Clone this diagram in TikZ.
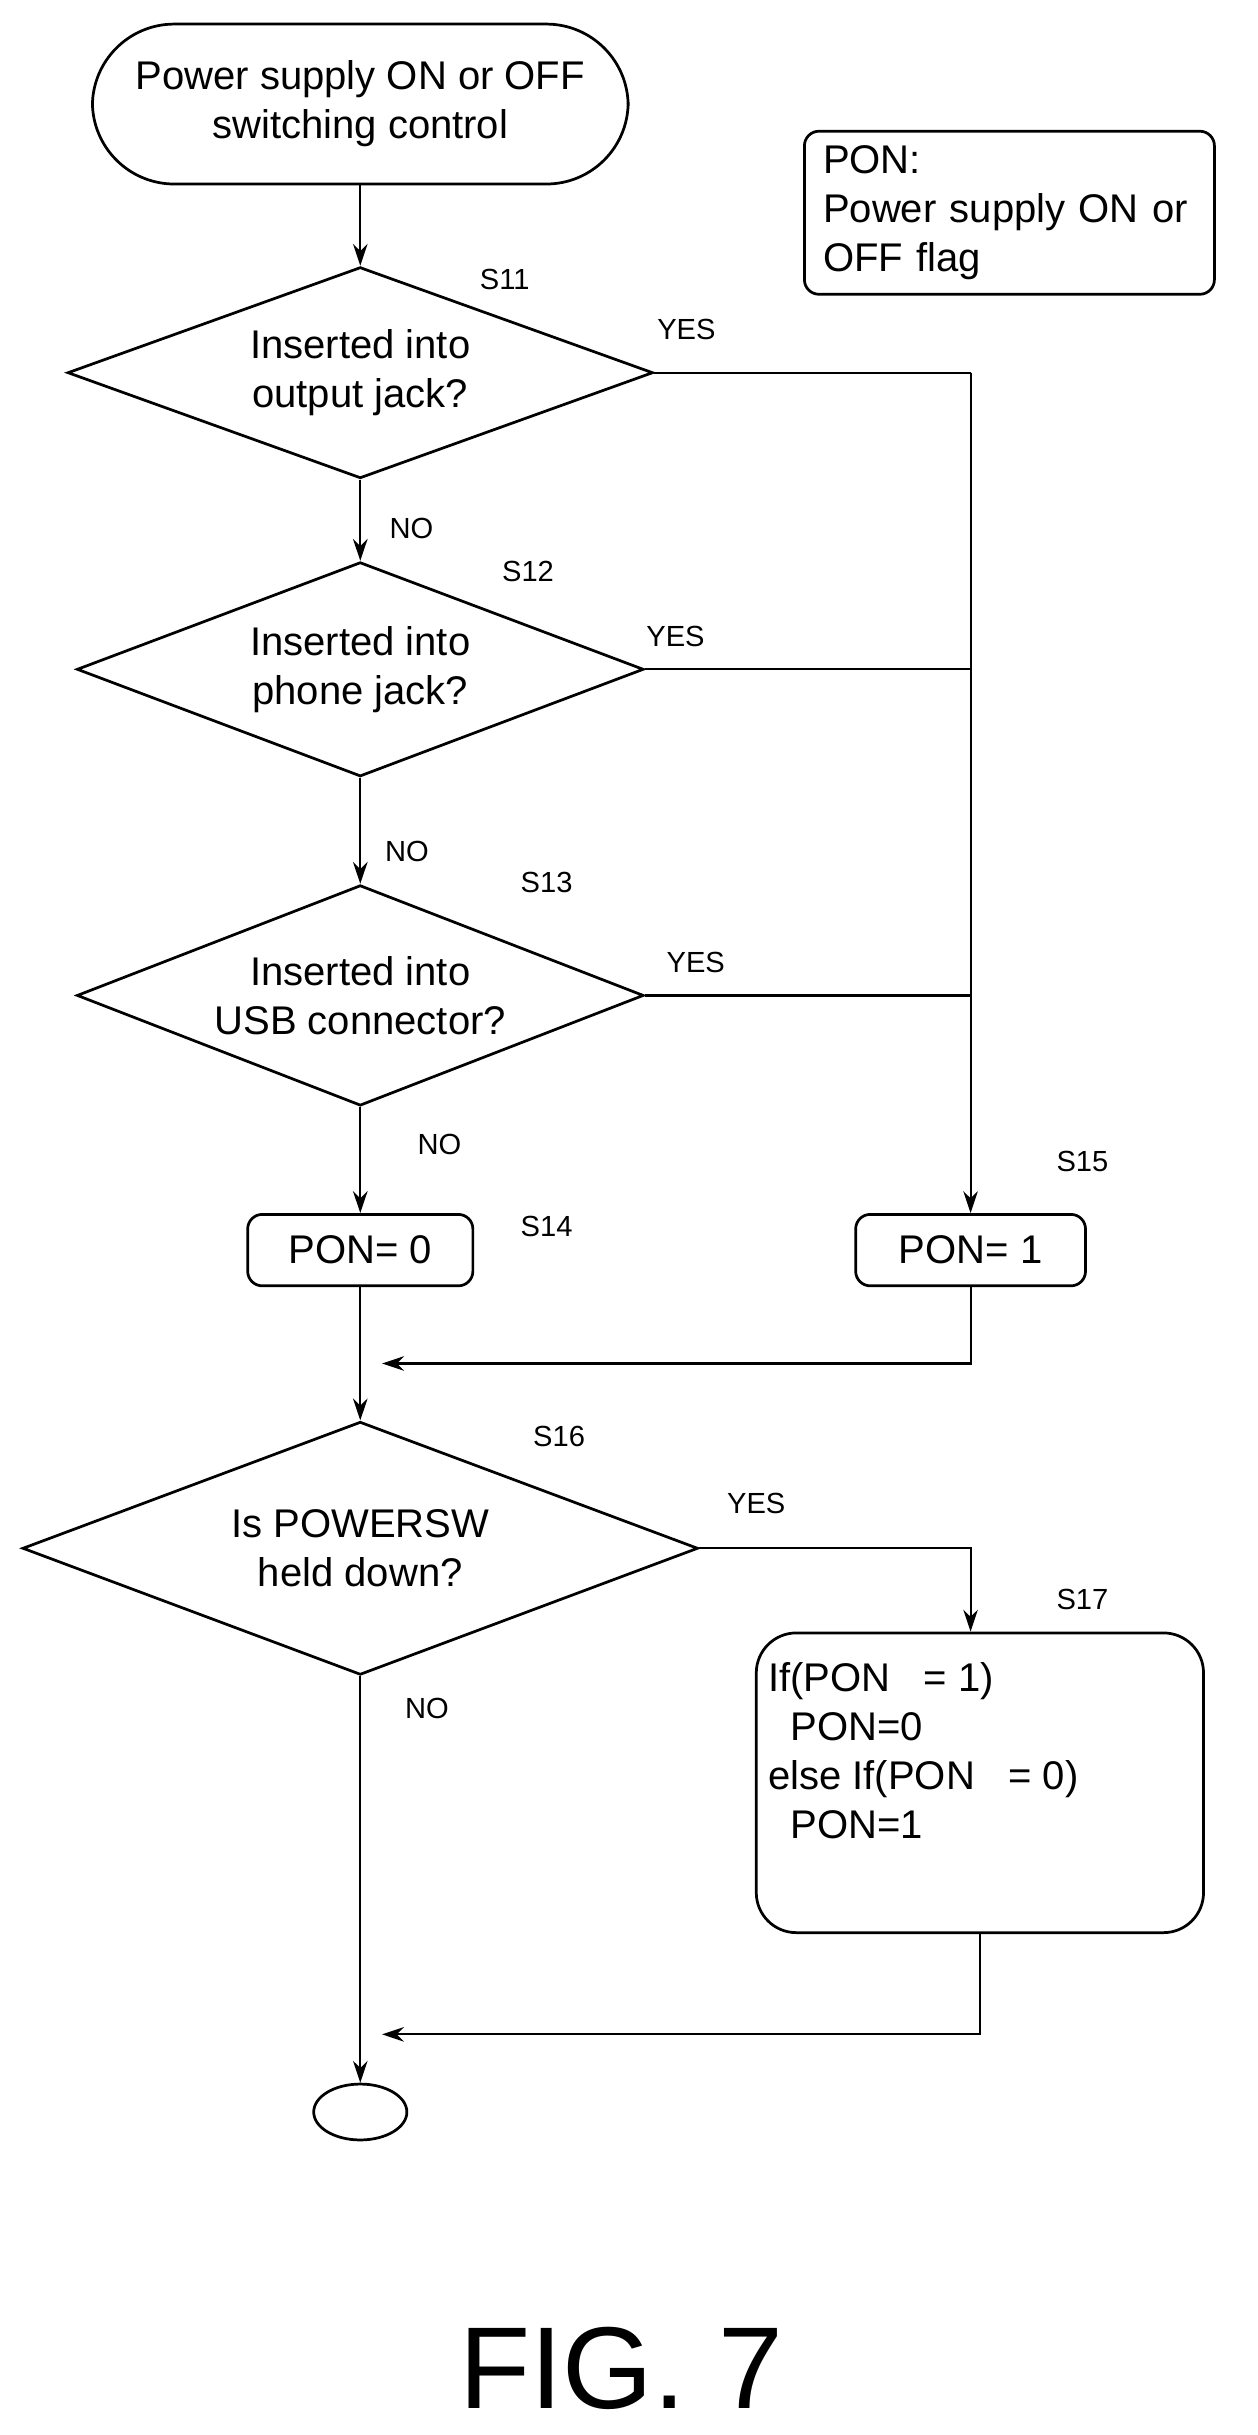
\documentclass[tikz,border=0pt]{standalone}
\usepackage{fontspec}
\setmainfont{Liberation Sans}
\usetikzlibrary{shapes.geometric,arrows.meta}
\begin{document}
\begin{tikzpicture}[x=0.03cm,y=-0.03cm,
  line width=1.2pt,
  arr/.style={-{Stealth[length=12pt,width=8pt]}},
  big/.style={font=\fontsize{22}{27}\selectfont},
  lab/.style={font=\fontsize{16}{19}\selectfont},
  dia/.style={draw,diamond,aspect=2.7,inner sep=0pt,big,align=center,line width=1.5pt},
  box/.style={draw,rounded corners=8pt,line width=1.5pt}]
\useasboundingbox (0,0) rectangle (810,1568);
\node[draw,rounded corners=45pt,line width=1.5pt,minimum width=345*0.03cm,minimum height=103*0.03cm,big,align=center] (start) at (232,67) {Power supply ON or OFF\\switching control};
\node[box,minimum width=264*0.03cm,minimum height=105*0.03cm,big,align=left,text width=240*0.03cm] (note) at (650,137) {PON:\\Power supply ON or\\OFF flag};
\node[dia,minimum width=377*0.03cm,minimum height=136*0.03cm] (s11) at (232,240) {Inserted into\\output jack?};
\node[dia,minimum width=365*0.03cm,minimum height=138*0.03cm] (s12) at (232,431) {Inserted into\\phone jack?};
\node[dia,minimum width=365*0.03cm,minimum height=142*0.03cm] (s13) at (232,641) {Inserted into\\USB connector?};
\node[box,minimum width=145*0.03cm,minimum height=46*0.03cm,big] (s14) at (232,805) {PON= 0};
\node[box,minimum width=148*0.03cm,minimum height=46*0.03cm,big] (s15) at (625,805) {PON= 1};
\node[dia,minimum width=435*0.03cm,minimum height=163*0.03cm] (s16) at (232,997) {Is POWERSW\\held down?};
\node[draw,rounded corners=22pt,line width=1.5pt,minimum width=288*0.03cm,minimum height=193*0.03cm] (s17) at (631,1148) {};
\node[anchor=north west,big,align=left] (s17t) at (490,1066) {If(PON\ \ \ = 1)\\\ \ PON=0\\else If(PON\ \ \ = 0)\\\ \ PON=1};
\node[draw,ellipse,line width=1.5pt,minimum width=60*0.03cm,minimum height=36*0.03cm] (end) at (232,1360) {};
\node[font=\fontsize{64}{70}\selectfont] (fig) at (400,1525) {FIG. 7};
% labels
\node[lab] (l11) at (325,180) {S11};
\node[lab] (l12) at (340,368) {S12};
\node[lab] (l13) at (352,568) {S13};
\node[lab] (l14) at (352,790) {S14};
\node[lab] (l15) at (697,748) {S15};
\node[lab] (l16) at (360,925) {S16};
\node[lab] (l17) at (697,1030) {S17};
\node[lab] (y1) at (442,212) {YES};
\node[lab] (y2) at (435,410) {YES};
\node[lab] (y3) at (448,620) {YES};
\node[lab] (y4) at (487,968) {YES};
\node[lab] (n1) at (265,340) {NO};
\node[lab] (n2) at (262,548) {NO};
\node[lab] (n3) at (283,737) {NO};
\node[lab] (n4) at (275,1100) {NO};
% coordinates
\coordinate (c1) at (625,240);
\coordinate (c2) at (625,431);
\coordinate (c3) at (625,641);
\coordinate (j1) at (625,878);
\coordinate (m1) at (232,878);
\coordinate (c4) at (625,997);
\coordinate (j2) at (631,1310);
\coordinate (m2) at (232,1310);
% connectors
\draw[arr] (start) -- (s11);
\draw[arr] (s11) -- (s12);
\draw[arr] (s12) -- (s13);
\draw[arr] (s13) -- (s14);
\draw (s11.east) -- (c1);
\draw[arr] (c1) -- (s15.north);
\draw (s12.east) -- (c2);
\draw (s13.east) -- (c3);
\draw[arr] (s14) -- (s16);
\draw[arr] (s15.south) -- (j1) -- ([xshift=12pt]m1);
\draw[arr] (s16.east) -- (c4) -- (s17.north -| c4);
\draw[arr] (s16) -- (end);
\draw[arr] (s17.south) -- (j2) -- ([xshift=12pt]m2);
\end{tikzpicture}
\end{document}
